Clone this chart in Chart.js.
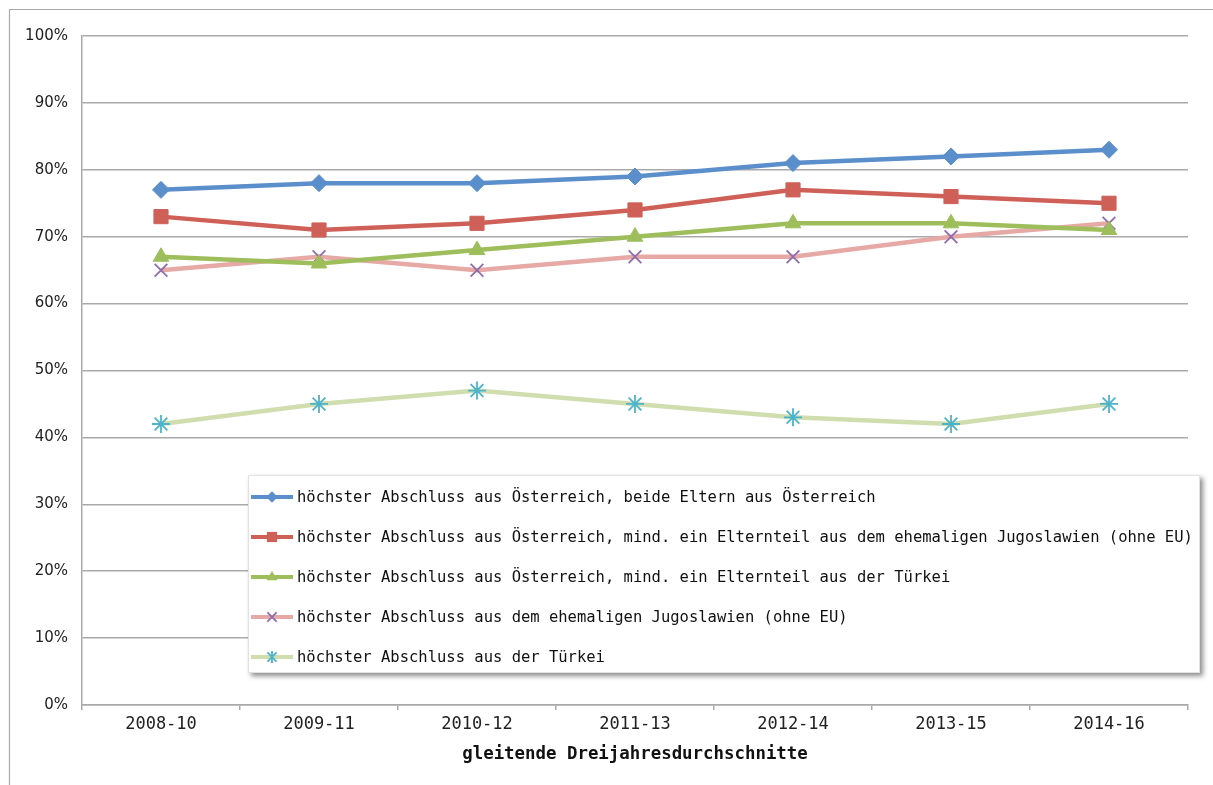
<!DOCTYPE html>
<html>
<head>
<meta charset="utf-8">
<script src="https://cdn.jsdelivr.net/npm/chart.js@4/dist/chart.umd.min.js"></script>
<style>
  html, body { margin: 0; padding: 0; background: #fff; }
  #wrap { position: relative; width: 1213px; height: 785px; }
</style>
</head>
<body>
<div id="wrap"><canvas id="c" width="1213" height="785"></canvas></div>
<script>
// ---- data ----
const categories = ["2008-10", "2009-11", "2010-12", "2011-13", "2012-14", "2013-15", "2014-16"];
const seriesNames = [
  "höchster Abschluss aus Österreich, beide Eltern aus Österreich",
  "höchster Abschluss aus Österreich, mind. ein Elternteil aus dem ehemaligen Jugoslawien (ohne EU)",
  "höchster Abschluss aus Österreich, mind. ein Elternteil aus der Türkei",
  "höchster Abschluss aus dem ehemaligen Jugoslawien (ohne EU)",
  "höchster Abschluss aus der Türkei"
];
const austriaBothParents = [77, 78, 78, 79, 81, 82, 83];
const austriaParentYugoslavia = [73, 71, 72, 74, 77, 76, 75];
const austriaParentTurkey = [67, 66, 68, 70, 72, 72, 71];
const degreeYugoslavia = [65, 67, 65, 67, 67, 70, 72];
const degreeTurkey = [42, 45, 47, 45, 43, 42, 45];
const yTickValues = [0, 10, 20, 30, 40, 50, 60, 70, 80, 90, 100];
const xAxisTitle = "gleitende Dreijahresdurchschnitte";

// ---- styles ----
const styles = [
  { line: "#5A8FCB", point: "#5A8FCB", style: "rectRot", r: 8.5, bw: 1 },
  { line: "#CF6058", point: "#CF6058", style: "rect", r: 10, bw: 1 },
  { line: "#9DBE5B", point: "#9DBE5B", style: "triangle", r: 9, bw: 1 },
  { line: "#E6A9A6", point: "#8E6DAE", style: "crossRot", r: 9, bw: 1.8 },
  { line: "#CFDDAF", point: "#4DB3CB", style: "star", r: 9, bw: 1.8 }
];
const seriesData = [austriaBothParents, austriaParentYugoslavia, austriaParentTurkey, degreeYugoslavia, degreeTurkey];

Chart.defaults.font.family = "'DejaVu Sans Mono', monospace";
Chart.defaults.color = "#222";

const datasets = seriesData.map((d, i) => ({
  label: seriesNames[i],
  data: d,
  borderColor: styles[i].line,
  backgroundColor: styles[i].point,
  borderWidth: 4.5,
  pointStyle: styles[i].style,
  pointRadius: styles[i].r,
  pointHoverRadius: styles[i].r,
  pointBackgroundColor: styles[i].point,
  pointBorderColor: styles[i].point,
  pointBorderWidth: styles[i].bw,
  tension: 0,
  fill: false
}));

const framePlugin = {
  id: "frame",
  beforeDraw(chart) {
    const ctx = chart.ctx;
    ctx.save();
    ctx.fillStyle = "#fff";
    ctx.fillRect(0, 0, chart.width, chart.height);
    ctx.strokeStyle = "#a9a9a9";
    ctx.lineWidth = 1.2;
    ctx.beginPath();
    ctx.moveTo(9.5, chart.height);
    ctx.lineTo(9.5, 9.5);
    ctx.lineTo(chart.width, 9.5);
    ctx.stroke();
    ctx.restore();
  }
};

function drawMarker(ctx, style, r, x, y) {
  ctx.save();
  ctx.beginPath();
  if (style === "rectRot") {
    ctx.moveTo(x, y - r); ctx.lineTo(x + r, y); ctx.lineTo(x, y + r); ctx.lineTo(x - r, y); ctx.closePath();
    ctx.fill();
  } else if (style === "rect") {
    const s = r * 0.75;
    ctx.rect(x - s, y - s, 2 * s, 2 * s); ctx.fill();
  } else if (style === "triangle") {
    ctx.moveTo(x, y - r); ctx.lineTo(x + r * 0.9, y + r * 0.55); ctx.lineTo(x - r * 0.9, y + r * 0.55); ctx.closePath(); ctx.fill();
  } else if (style === "crossRot") {
    const s = r * 0.75;
    ctx.moveTo(x - s, y - s); ctx.lineTo(x + s, y + s); ctx.moveTo(x + s, y - s); ctx.lineTo(x - s, y + s); ctx.stroke();
  } else if (style === "star") {
    const s = r * 0.75;
    ctx.moveTo(x - s, y - s); ctx.lineTo(x + s, y + s); ctx.moveTo(x + s, y - s); ctx.lineTo(x - s, y + s);
    ctx.moveTo(x, y - r); ctx.lineTo(x, y + r); ctx.stroke();
  }
  ctx.restore();
}

const legendPlugin = {
  id: "customLegend",
  afterDraw(chart) {
    const ctx = chart.ctx;
    const ca = chart.chartArea;
    const bx = ca.left + 166, by = ca.top + 439, bw = 952, bh = 198;
    ctx.save();
    ctx.shadowColor = "rgba(0,0,0,0.45)";
    ctx.shadowBlur = 5;
    ctx.shadowOffsetX = 3;
    ctx.shadowOffsetY = 3;
    ctx.fillStyle = "#fff";
    ctx.fillRect(bx, by, bw, bh);
    ctx.restore();
    ctx.save();
    ctx.strokeStyle = "#e2e2e2";
    ctx.lineWidth = 1;
    ctx.strokeRect(bx + 0.5, by + 0.5, bw - 1, bh - 1);
    ctx.font = "15.5px 'DejaVu Sans Mono', monospace";
    ctx.textBaseline = "middle";
    chart.data.datasets.forEach((ds, i) => {
      const y = by + 22 + i * 40;
      const x0 = bx + 3, x1 = bx + 45;
      ctx.strokeStyle = ds.borderColor;
      ctx.lineWidth = 4;
      ctx.lineCap = "butt";
      ctx.beginPath();
      ctx.moveTo(x0, y);
      ctx.lineTo(x1, y);
      ctx.stroke();
      ctx.fillStyle = ds.pointBackgroundColor;
      ctx.strokeStyle = ds.pointBorderColor;
      ctx.lineWidth = ds.pointBorderWidth;
      drawMarker(ctx, ds.pointStyle, ds.pointRadius * 0.68, (x0 + x1) / 2, y);
      ctx.fillStyle = "#111";
      ctx.fillText(ds.label, bx + 49, y + 1);
    });
    ctx.restore();
  }
};

new Chart(document.getElementById("c"), {
  type: "line",
  data: { labels: categories, datasets },
  options: {
    responsive: false,
    animation: false,
    layout: { padding: { left: 0, top: 36, right: 25, bottom: 0 } },
    plugins: { legend: { display: false }, tooltip: { enabled: false } },
    scales: {
      x: {
        offset: true,
        afterFit(scale) { scale.height = 80; },
        grid: { offset: true, drawOnChartArea: false, drawTicks: true, tickLength: 5, color: "#a9a9a9", lineWidth: 1.5 },
        border: { display: true, color: "#a9a9a9", width: 1.5 },
        ticks: { padding: 4, font: { size: 17 }, color: "#222", maxRotation: 0 },
        title: { display: true, text: xAxisTitle, font: { size: 17.4, weight: "bold" }, color: "#111", padding: { top: 0, bottom: 20 } }
      },
      y: {
        min: 0, max: 100,
        afterFit(scale) { scale.width = 82; },
        afterBuildTicks(scale) { scale.ticks = yTickValues.map(v => ({ value: v })); },
        grid: { drawTicks: false, color: "#a9a9a9", lineWidth: 1.5 },
        border: { display: true, color: "#a9a9a9", width: 1.5 },
        ticks: { padding: 14, font: { family: "'DejaVu Sans', sans-serif", size: 15 }, color: "#222", callback: v => v + "%" }
      }
    }
  },
  plugins: [framePlugin, legendPlugin]
});
</script>
</body>
</html>
